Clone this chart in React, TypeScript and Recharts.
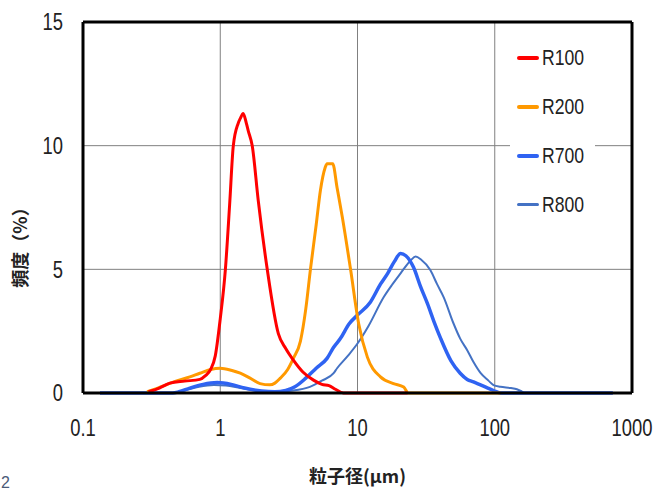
import { LineChart, Line, XAxis, YAxis, CartesianGrid, ReferenceLine } from 'recharts';

// particle size (µm) on a log axis, frequency (%) on y
const X_TICKS = [0.1, 1, 10, 100, 1000];
const Y_TICKS = [0, 5, 10, 15];

const R100_SIZE = [0.3, 0.36, 0.43, 0.55, 0.71, 0.78, 0.85, 0.92, 1.0, 1.09, 1.17, 1.245, 1.35, 1.4, 1.47, 1.55, 1.6, 1.71, 1.89, 2.2, 2.65, 3.0, 3.41, 4.0, 4.78, 5.5, 6.2, 6.9, 7.9, 12, 23.2];
const R100_FREQ = [0.05, 0.2, 0.4, 0.48, 0.55, 0.7, 0.95, 1.5, 3.0, 5.0, 7.6, 10.0, 10.9, 11.1, 11.3, 10.9, 10.6, 10.0, 7.8, 5.0, 2.4, 1.8, 1.33, 0.85, 0.52, 0.35, 0.3, 0.15, 0, 0, 0];

const R200_SIZE = [0.293, 0.35, 0.454, 0.6, 0.71, 0.85, 1.0, 1.2, 1.4, 1.65, 1.95, 2.3, 2.5, 2.74, 3.1, 3.41, 3.84, 4.2, 4.54, 5.0, 5.37, 5.8, 6.0, 6.6, 7.1, 7.76, 8.9, 10.2, 11.8, 14.7, 18.3, 21.7, 23.5, 110];
const R200_FREQ = [0.05, 0.2, 0.44, 0.65, 0.8, 0.95, 1.0, 0.92, 0.8, 0.6, 0.38, 0.33, 0.4, 0.6, 0.95, 1.4, 2.1, 3.4, 5.0, 6.8, 8.2, 9.1, 9.27, 9.27, 8.3, 7.1, 5.0, 2.8, 1.45, 0.65, 0.38, 0.24, 0, 0];

const R700_SIZE = [0.133, 0.45, 0.5, 0.6, 0.75, 0.95, 1.2, 1.5, 2.0, 2.5, 3.0, 3.5, 4.2, 5.0, 6.0, 6.7, 7.5, 8.7, 10, 12.4, 14.7, 16.6, 18.5, 20.6, 22.5, 25.6, 28.8, 32.4, 36, 40.4, 48, 56, 63, 70, 89, 98, 110, 725];
const R700_FREQ = [0, 0, 0.05, 0.2, 0.35, 0.42, 0.35, 0.2, 0.08, 0.05, 0.1, 0.25, 0.6, 1.0, 1.4, 1.85, 2.2, 2.8, 3.15, 3.67, 4.4, 4.84, 5.3, 5.64, 5.55, 5.08, 4.3, 3.6, 2.9, 2.2, 1.3, 0.8, 0.55, 0.45, 0.2, 0.1, 0, 0];

const R800_SIZE = [0.133, 0.45, 0.55, 0.7, 0.9, 1.1, 1.4, 1.8, 2.5, 3.4, 4.5, 5.5, 6.7, 7.1, 8.5, 10, 12, 15.5, 18, 20.6, 24.4, 26.5, 29, 34, 38, 42.5, 50, 56, 63, 70, 79, 90, 98, 110, 131, 145, 155, 165, 725];
const R800_FREQ = [0, 0, 0.1, 0.25, 0.32, 0.3, 0.2, 0.1, 0.05, 0.1, 0.25, 0.5, 0.8, 1.0, 1.5, 2.0, 2.7, 3.87, 4.4, 4.84, 5.36, 5.52, 5.4, 4.96, 4.4, 3.87, 2.82, 2.2, 1.73, 1.25, 0.8, 0.5, 0.32, 0.25, 0.2, 0.15, 0.08, 0, 0];

const LEGEND_NAMES = ['R100', 'R200', 'R700', 'R800'];

const COLORS: Record<string, string> = {
  R100: '#ff0000',
  R200: '#ff9900',
  R700: '#2f63f2',
  R800: '#4472c4',
};

const WIDTHS: Record<string, number> = {
  R100: 3,
  R200: 3,
  R700: 3.5,
  R800: 2,
};

const zip = (xs: number[], ys: number[]) => xs.map((x, i) => ({ x, y: ys[i] }));

// drawn bottom to top
const SERIES = [
  { name: 'R800', data: zip(R800_SIZE, R800_FREQ) },
  { name: 'R700', data: zip(R700_SIZE, R700_FREQ) },
  { name: 'R200', data: zip(R200_SIZE, R200_FREQ) },
  { name: 'R100', data: zip(R100_SIZE, R100_FREQ) },
];

const SANS = "'Liberation Sans', Arial, sans-serif";
const CJK = "'Noto Sans CJK JP', sans-serif";
const SQUEEZE = 0.8; // the original uses a condensed face

function XTick({ x, y, payload }: any) {
  return (
    <g transform={`translate(${x},${y})`}>
      <text x={0} y={0} dy="0.71em" textAnchor="middle" transform={`scale(${SQUEEZE},1)`}
        fill="#222" fontSize={23} fontFamily={SANS}>
        {String(payload.value)}
      </text>
    </g>
  );
}

function YTick({ x, y, payload }: any) {
  return (
    <g transform={`translate(${x},${y})`}>
      <text x={0} y={0} dy="0.36em" textAnchor="end" transform={`scale(${SQUEEZE},1)`}
        fill="#222" fontSize={23} fontFamily={SANS}>
        {String(payload.value)}
      </text>
    </g>
  );
}

function LegendBox() {
  return (
    <div style={{ position: 'absolute', left: 510, top: 33, width: 85, background: '#fff' }}>
      {LEGEND_NAMES.map((name) => (
        <div key={name} style={{ height: 49, display: 'flex', alignItems: 'center' }}>
          <span
            style={{
              display: 'inline-block',
              width: 28,
              height: 0,
              marginLeft: 7,
              borderTop: `${name === 'R800' ? 3 : 4}px solid ${COLORS[name]}`,
              borderRadius: 2,
            }}
          />
          <span
            style={{
              marginLeft: 3,
              fontFamily: SANS,
              fontSize: 22,
              color: '#222',
              display: 'inline-block',
              transform: `scaleX(${SQUEEZE})`,
              transformOrigin: 'left center',
            }}
          >
            {name}
          </span>
        </div>
      ))}
    </div>
  );
}

export default function App() {
  return (
    <div style={{ position: 'relative', width: 658, height: 492, overflow: 'hidden', background: '#fff' }}>
      <style>{'body{margin:0}'}</style>
      <LineChart width={658} height={492} margin={{ top: 22, right: 26, bottom: 4, left: 0 }}>
        <CartesianGrid stroke="#808080" strokeWidth={1} />
        <XAxis
          dataKey="x"
          type="number"
          scale="log"
          domain={[0.1, 1000]}
          ticks={X_TICKS}
          allowDataOverflow
          height={95}
          tickLine={false}
          tickSize={0}
          tickMargin={27}
          tick={<XTick />}
          axisLine={{ stroke: '#000', strokeWidth: 3 }}
          label={{
            value: '粒子径(μm)',
            position: 'insideBottom',
            offset: 5,
            fill: '#222',
            fontSize: 18,
            fontWeight: 'bold',
            fontFamily: CJK,
          }}
        />
        <YAxis
          type="number"
          domain={[0, 15]}
          ticks={Y_TICKS}
          width={83}
          tickLine={false}
          tickSize={0}
          tickMargin={20}
          tick={<YTick />}
          axisLine={{ stroke: '#000', strokeWidth: 3 }}
          label={{
            content: () => (
              <text
                x={19}
                y={243}
                transform="rotate(-90 19 243)"
                textAnchor="middle"
                dominantBaseline="central"
                fill="#222"
                fontSize={18}
                fontWeight="bold"
                fontFamily={CJK}
              >
                頻度（%）
              </text>
            ),
          }}
        />
        <ReferenceLine y={15} stroke="#000" strokeWidth={3} />
        <ReferenceLine x={1000} stroke="#000" strokeWidth={3} />
        {SERIES.map((s) => (
          <Line
            key={s.name}
            data={s.data}
            dataKey="y"
            name={s.name}
            type="monotone"
            stroke={COLORS[s.name]}
            strokeWidth={WIDTHS[s.name]}
            dot={false}
            activeDot={false}
            isAnimationActive={false}
          />
        ))}
      </LineChart>
      <LegendBox />
      <div
        style={{
          position: 'absolute',
          left: 1,
          top: 475,
          fontFamily: SANS,
          fontSize: 16,
          color: '#4a5a78',
          lineHeight: 1,
        }}
      >
        2
      </div>
    </div>
  );
}
